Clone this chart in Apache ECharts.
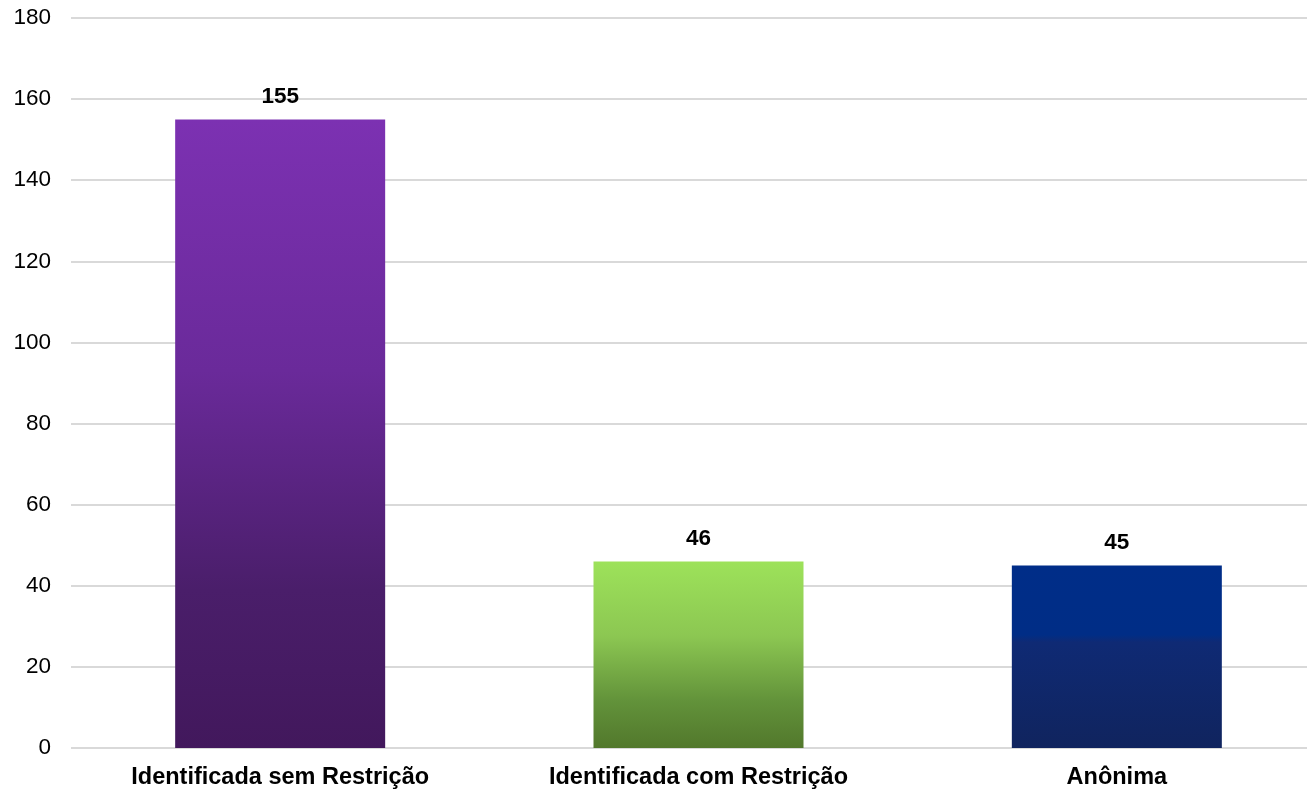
<!DOCTYPE html>
<html><head><meta charset="utf-8">
<script src="https://cdn.jsdelivr.net/npm/echarts@6/dist/echarts.min.js"></script>
<style>html,body{margin:0;padding:0;background:#fff;overflow:hidden;width:1307px;height:790px}#c{width:1326px;height:790px}</style>
</head><body><div id="c"></div>
<script>
const categories = ['Identificada sem Restrição', 'Identificada com Restrição', 'Anônima'];
const values = [155, 46, 45];
const yTicks = [0, 20, 40, 60, 80, 100, 120, 140, 160, 180];

const gradients = [
  [['#7C31B2', 0], ['#6A2A9A', 0.4], ['#4A1E6A', 0.75], ['#42185C', 1]],
  [['#9DE25A', 0], ['#8CC752', 0.4], ['#62923A', 0.75], ['#52782C', 1]],
  [['#002D88', 0], ['#002D86', 0.38], ['#0F2A74', 0.42], ['#10245E', 1]]
];
function grad(stops) {
  return new echarts.graphic.LinearGradient(0, 0, 0, 1, stops.map(s => ({offset: s[1], color: s[0]})));
}
const chart = echarts.init(document.getElementById('c'));
chart.setOption({
  animation: false,
  grid: {left: 71, right: 0, top: 18, bottom: 41},
  xAxis: {
    type: 'category', data: categories,
    axisLine: {show: false}, axisTick: {show: false},
    axisLabel: {fontFamily: 'Liberation Sans, Arial', fontSize: 23.5, fontWeight: 'bold', color: '#000', margin: 18}
  },
  yAxis: {
    type: 'value', min: yTicks[0], max: yTicks[yTicks.length - 1], interval: 20,
    axisLine: {show: false}, axisTick: {show: false},
    splitLine: {lineStyle: {color: '#D9D9D9', width: 2}},
    axisLabel: {fontFamily: 'Liberation Sans, Arial', fontSize: 22.5, color: '#000', margin: 20}
  },
  series: [{
    type: 'bar', barWidth: 210,
    data: values.map((v, i) => ({value: v, itemStyle: {color: grad(gradients[i])}})),
    label: {show: true, position: 'top', distance: 11, fontFamily: 'Liberation Sans, Arial', fontSize: 22.5, fontWeight: 'bold', color: '#000'}
  }]
});
</script></body></html>
